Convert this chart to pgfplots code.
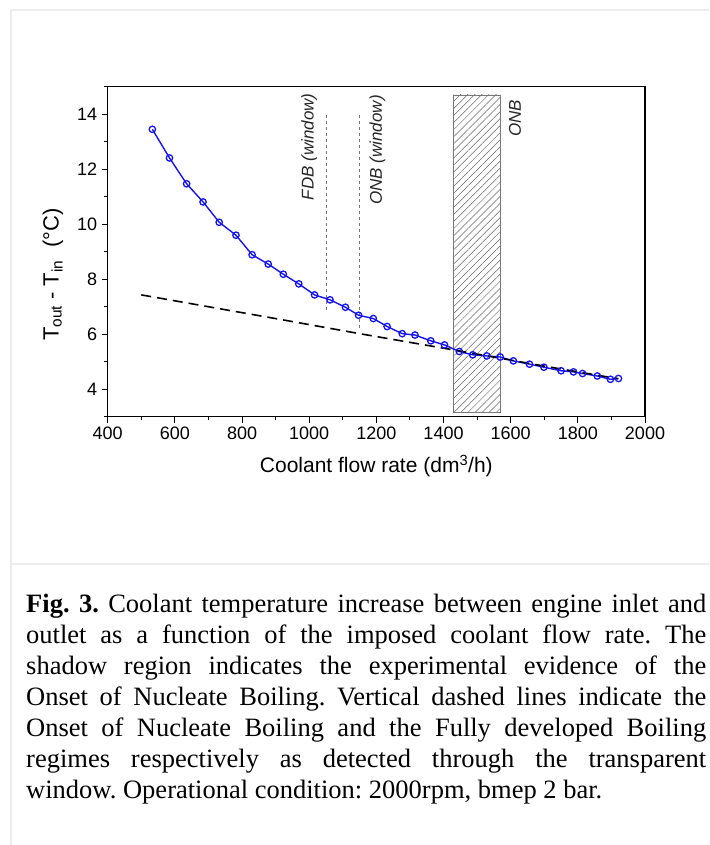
\documentclass[border=0pt]{standalone}
\usepackage{fontspec}
\setmainfont{Liberation Serif}
\newfontfamily\arial{Liberation Sans}
\usepackage{pgfplots}
\pgfplotsset{compat=1.18}
\usetikzlibrary{patterns.meta}
\definecolor{framegray}{RGB}{236,236,236}
\definecolor{myblue}{RGB}{20,20,240}
\definecolor{vgray}{RGB}{120,120,120}
\begin{document}
\begin{tikzpicture}[x=1pt,y=1pt]
\path[use as bounding box] (0pt,0pt) rectangle (709pt,-845pt);
\draw[framegray, line width=2pt] (11pt,-845pt) -- (11pt,-10pt) -- (709pt,-10pt);
\draw[framegray, line width=2pt] (11pt,-564pt) -- (709pt,-564pt);
\begin{axis}[
  at={(107.7pt,-416.7pt)}, anchor=south west,
  scale only axis, width=537.3pt, height=330pt,
  xmin=400, xmax=2000, ymin=3, ymax=15,
  xtick={400,600,...,2000}, ytick={4,6,...,14},
  minor xtick={500,700,...,1900}, minor ytick={3,5,...,15},
  tick align=outside, tick pos=left,
  major tick length=6pt, minor tick length=3.5pt,
  axis line style={line width=1.1pt},
  every tick/.style={black, line width=1pt},
  tick label style={font=\arial\fontsize{18}{20}\selectfont},
  /pgf/number format/assume math mode=true,
  /pgf/number format/1000 sep={},
  xticklabel style={yshift=-1pt},
  yticklabel style={xshift=-1pt},
  xlabel={Coolant flow rate (dm\textsuperscript{3}/h)},
  x label style={font=\arial\fontsize{21}{24}\selectfont, at={(axis description cs:0.5,-0.15)}, anchor=center},
  ylabel={T\textsubscript{out} - T\textsubscript{in}\ \ (°C)},
  y label style={font=\arial\fontsize{22}{24}\selectfont, at={(axis description cs:-0.102,0.43)}, anchor=center, rotate=0},
  clip=false,
]
% hatched ONB region
\addplot[draw=vgray, line width=0.8pt, pattern={Lines[angle=45,distance=5pt,line width=0.5pt]}, pattern color=black!60]
  coordinates {(1430,3.15) (1430,14.7) (1570,14.7) (1570,3.15) (1430,3.15)};
% vertical dashed lines (window)
\addplot[vgray, line width=0.9pt, dash pattern=on 3.5pt off 2.5pt] coordinates {(1050,6.88) (1050,14)};
\addplot[vgray, line width=0.9pt, dash pattern=on 3.5pt off 2.5pt] coordinates {(1150,6.22) (1150,14)};
% measured data
\addplot[myblue, line width=1.4pt, mark=o, mark size=3.2pt, mark options={line width=1.3pt, fill=white, solid}] coordinates {
(533,13.45) (584,12.41) (635,11.47) (684,10.81) (732,10.07) (782,9.60)
(830,8.89) (878,8.55) (923,8.18) (969,7.83) (1016,7.43) (1062,7.25)
(1108,6.98) (1147,6.69) (1191,6.57) (1232,6.28) (1277,6.02) (1315,5.97)
(1362,5.76) (1403,5.61) (1447,5.37) (1487,5.25) (1529,5.21) (1569,5.17)
(1608,5.03) (1656,4.91) (1699,4.80) (1750,4.67) (1787,4.63) (1814,4.57)
(1858,4.48) (1897,4.36) (1921,4.39)};
% reference (single-phase) dashed line
\addplot[black, line width=1.6pt, dash pattern=on 10pt off 6pt] coordinates {
(500,7.43) (913,6.54) (1150,6.02) (1434,5.42) (1700,4.84) (1920,4.38)};
% annotations
\node[rotate=90, anchor=east, inner sep=0pt, font=\arial\itshape\fontsize{17}{18}\selectfont, text=black!85] at (axis cs:1000,14.76) {FDB (window)};
\node[rotate=90, anchor=east, inner sep=0pt, font=\arial\itshape\fontsize{17}{18}\selectfont, text=black!85] at (axis cs:1203,14.70) {ONB (window)};
\node[rotate=90, anchor=east, inner sep=0pt, font=\arial\itshape\fontsize{17}{18}\selectfont, text=black!85] at (axis cs:1613,14.52) {ONB};
\end{axis}
\node[anchor=north west, inner sep=0pt, text width=680pt, align=justify,
      font=\fontsize{26.5}{31.1}\selectfont] at (26pt,-593.5pt)
{\frenchspacing\hyphenpenalty=10000\emergencystretch=2em
\textbf{Fig. 3.} Coolant temperature increase between engine inlet and\linebreak
outlet as a function of the imposed coolant flow rate. The\linebreak
shadow region indicates the experimental evidence of the\linebreak
Onset of Nucleate Boiling. Vertical dashed lines indicate the\linebreak
Onset of Nucleate Boiling and the Fully developed Boiling\linebreak
regimes respectively as detected through the transparent\linebreak
window. Operational condition: 2000rpm, bmep 2 bar.};
\end{tikzpicture}
\end{document}
